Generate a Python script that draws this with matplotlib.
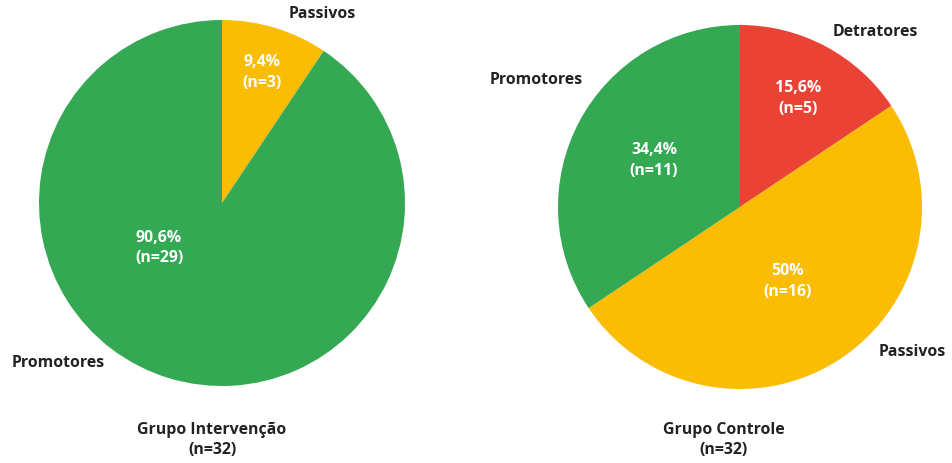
import matplotlib
matplotlib.use('Agg')
import matplotlib.pyplot as plt
import numpy as np

plt.rcParams['font.family'] = ['Open Sans', 'DejaVu Sans']

# dados
grupos = ['Grupo Intervenção', 'Grupo Controle']
n_total = [32, 32]
cat_interv = ['Passivos', 'Promotores']
n_interv = [3, 29]
pct_interv = ['9,4%', '90,6%']
cat_ctrl = ['Detratores', 'Passivos', 'Promotores']
n_ctrl = [5, 16, 11]
pct_ctrl = ['15,6%', '50%', '34,4%']

cores = {'Promotores': '#34A853', 'Passivos': '#FBBC04', 'Detratores': '#EA4335'}
txt_escuro = '#222222'
fs = 11.4

W, H = 952, 464
fig = plt.figure(figsize=(W / 100, H / 100), dpi=100)
ax = fig.add_axes([0, 0, 1, 1])

# layout (pixels): centro, raio, posições dos rótulos (ângulo, fração do raio)
pies = [
    dict(cats=cat_interv, vals=n_interv, pcts=pct_interv, centro=(222, 204), raio=183,
         dentro=[(73, 0.75), (215, 0.42)],
         fora=[(322, 14), (58, 363)],
         titulo=(212, 440)),
    dict(cats=cat_ctrl, vals=n_ctrl, pcts=pct_ctrl, centro=(740, 208), raio=182,
         dentro=[(62, 0.68), (-57, 0.48), (151, 0.54)],
         fora=[(875, 32), (912, 352), (536, 80)],
         titulo=(724, 440)),
]

for p, grupo, nt in zip(pies, grupos, n_total):
    cx, cy = p['centro']
    cy_plot = H - cy
    ax.pie(p['vals'], colors=[cores[c] for c in p['cats']], startangle=90,
           counterclock=False, center=(cx, cy_plot), radius=p['raio'],
           wedgeprops=dict(linewidth=0))
    for (ang, frac), pct, n in zip(p['dentro'], p['pcts'], p['vals']):
        a = np.deg2rad(ang)
        ax.text(cx + frac * p['raio'] * np.cos(a), cy_plot + frac * p['raio'] * np.sin(a),
                f'{pct}\n(n={n})', ha='center', va='center', color='white',
                fontsize=fs, fontweight='bold', linespacing=1.4)
    for (x, y), cat in zip(p['fora'], p['cats']):
        ax.text(x, H - y, cat, ha='center', va='center', color=txt_escuro,
                fontsize=fs, fontweight='bold')
    tx, ty = p['titulo']
    ax.text(tx, H - ty, f'{grupo}\n(n={nt})', ha='center', va='center', color=txt_escuro,
            fontsize=fs, fontweight='bold', linespacing=1.4)

ax.set_xlim(0, W)
ax.set_ylim(0, H)
ax.set_aspect('equal')
ax.axis('off')

fig.savefig('out.png', dpi=100, facecolor='white')
